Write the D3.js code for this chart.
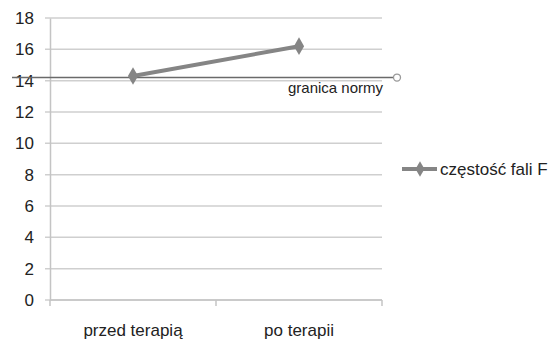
<!DOCTYPE html>
<html>
<head>
<meta charset="utf-8">
<script src="https://cdn.jsdelivr.net/npm/d3@7"></script>
<style>
  html, body { margin: 0; padding: 0; background: #fff; }
  svg { display: block; font-family: "Liberation Sans", Arial, sans-serif; }
</style>
</head>
<body>
<svg id="chart" width="551" height="340"></svg>
<script>
// Frequency of F waves before and after therapy, with the norm limit
const categories = ["przed terapią", "po terapii"];
const seriesName = "częstość fali F";
const seriesValues = [14.3, 16.2];
const normLimit = 14.2;
const normLabel = "granica normy";
const yTicks = [0, 2, 4, 6, 8, 10, 12, 14, 16, 18];

const svg = d3.select("#chart");
const margin = { left: 50, right: 169, top: 18, bottom: 40 };
const W = 551, H = 340;
const plotW = W - margin.left - margin.right;
const plotH = H - margin.top - margin.bottom;

const x = d3.scaleBand().domain(categories).range([margin.left, margin.left + plotW]).padding(0);
const y = d3.scaleLinear().domain([0, 18]).range([margin.top + plotH, margin.top]);

// Horizontal grid lines
svg.append("g")
  .selectAll("line")
  .data(yTicks)
  .join("line")
  .attr("x1", margin.left - 5)
  .attr("x2", margin.left + plotW)
  .attr("y1", d => y(d))
  .attr("y2", d => y(d))
  .attr("stroke", "#cfcfcf")
  .attr("stroke-width", 1.5);

// Y axis
const yAxis = svg.append("g")
  .attr("transform", `translate(${margin.left},0)`)
  .call(d3.axisLeft(y).tickValues(yTicks).tickSize(0).tickPadding(16));
yAxis.select(".domain").attr("stroke", "#c4c4c4").attr("stroke-width", 1.5);
yAxis.selectAll("text")
  .attr("font-size", 17)
  .attr("fill", "#222")
  .attr("font-family", "Liberation Sans, Arial, sans-serif");

// X axis with ticks at band boundaries
const xAxisY = y(0);
const xAxis = svg.append("g").attr("transform", `translate(0,${xAxisY})`);
xAxis.append("line")
  .attr("x1", margin.left).attr("x2", margin.left + plotW)
  .attr("stroke", "#c4c4c4").attr("stroke-width", 1.5);
const bounds = categories.map(c => x(c)).concat([x(categories[categories.length - 1]) + x.bandwidth()]);
xAxis.selectAll("line.tk")
  .data(bounds)
  .join("line")
  .attr("class", "tk")
  .attr("x1", d => d).attr("x2", d => d)
  .attr("y1", 0).attr("y2", 6)
  .attr("stroke", "#c4c4c4").attr("stroke-width", 1.5);
xAxis.selectAll("text")
  .data(categories)
  .join("text")
  .attr("x", d => x(d) + x.bandwidth() / 2)
  .attr("y", 36)
  .attr("text-anchor", "middle")
  .attr("font-size", 17)
  .attr("fill", "#222")
  .text(d => d);

// Norm limit line with open circle end marker
const normY = y(normLimit);
const normX1 = 12, normX2 = 397;
svg.append("line")
  .attr("x1", normX1).attr("x2", normX2)
  .attr("y1", normY).attr("y2", normY)
  .attr("stroke", "#6a6a6a").attr("stroke-width", 1.6);
svg.append("circle")
  .attr("cx", normX2).attr("cy", normY).attr("r", 3.5)
  .attr("fill", "#fff").attr("stroke", "#9a9a9a").attr("stroke-width", 1.3);
svg.append("text")
  .attr("x", 383).attr("y", normY + 15)
  .attr("text-anchor", "end")
  .attr("font-size", 15)
  .attr("fill", "#222")
  .text(normLabel);

// Data series
const pts = categories.map((c, i) => [x(c) + x.bandwidth() / 2, y(seriesValues[i])]);
svg.append("path")
  .attr("d", d3.line()(pts))
  .attr("fill", "none")
  .attr("stroke", "#858585")
  .attr("stroke-width", 4);
const diamond = d3.symbol().type(d3.symbolDiamond).size(90);
svg.append("g")
  .selectAll("path")
  .data(pts)
  .join("path")
  .attr("transform", d => `translate(${d[0]},${d[1]})`)
  .attr("d", diamond)
  .attr("fill", "#858585");

// Legend
const lg = svg.append("g").attr("transform", "translate(402,169)");
lg.append("line").attr("x1", 0).attr("x2", 35).attr("stroke", "#858585").attr("stroke-width", 4);
lg.append("path").attr("transform", "translate(18,0)").attr("d", d3.symbol().type(d3.symbolDiamond).size(70)).attr("fill", "#858585");
lg.append("text")
  .attr("x", 38).attr("y", 6)
  .attr("font-size", 17)
  .attr("fill", "#222")
  .text(seriesName);
</script>
</body>
</html>
